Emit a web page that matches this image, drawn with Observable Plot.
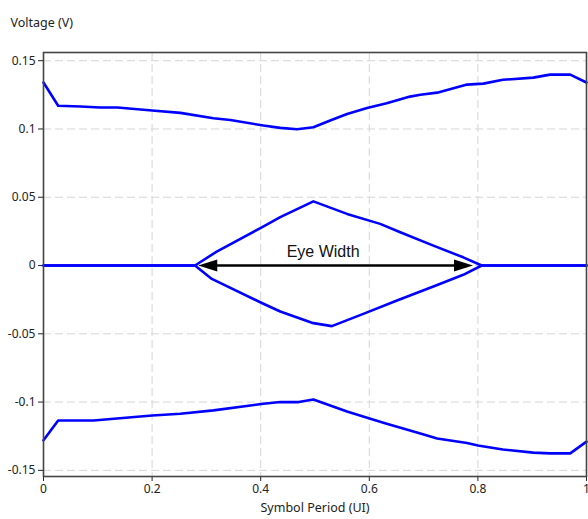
<!DOCTYPE html>
<html>
<head>
<meta charset="utf-8">
<script src="https://cdn.jsdelivr.net/npm/d3@7"></script>
<script src="https://cdn.jsdelivr.net/npm/@observablehq/plot@0.6"></script>
<style>
  html, body { margin: 0; padding: 0; background: #fff; overflow: hidden; }
</style>
</head>
<body>
<div id="chart"></div>
<script>
// Upper outer envelope
const upperX = [0, 0.027, 0.068, 0.104, 0.136, 0.2, 0.252, 0.313, 0.344, 0.405, 0.436, 0.467, 0.497, 0.528, 0.559, 0.596, 0.632, 0.675, 0.694, 0.725, 0.78, 0.81, 0.846, 0.902, 0.933, 0.97, 1];
const upperY = [0.134, 0.117, 0.1165, 0.1157, 0.1157, 0.1135, 0.1118, 0.1078, 0.1066, 0.1025, 0.1008, 0.0998, 0.1013, 0.1062, 0.111, 0.1154, 0.1188, 0.1237, 0.125, 0.1266, 0.1325, 0.1332, 0.136, 0.1376, 0.1398, 0.1398, 0.134];
// Lower outer envelope
const lowerX = [0, 0.027, 0.092, 0.2, 0.252, 0.313, 0.405, 0.436, 0.47, 0.497, 0.528, 0.559, 0.596, 0.632, 0.675, 0.694, 0.725, 0.78, 0.8, 0.846, 0.902, 0.933, 0.97, 1];
const lowerY = [-0.128, -0.1135, -0.1135, -0.1098, -0.1086, -0.1061, -0.1012, -0.1, -0.1, -0.0981, -0.1025, -0.1069, -0.1115, -0.1159, -0.1208, -0.123, -0.1267, -0.130, -0.1318, -0.1347, -0.137, -0.1376, -0.1376, -0.129];
// Inner eye, top edge (with zero line)
const eyeTopX = [0, 0.279, 0.319, 0.402, 0.436, 0.497, 0.559, 0.62, 0.657, 0.718, 0.773, 0.807, 1];
const eyeTopY = [0, 0, 0.0102, 0.028, 0.0354, 0.047, 0.0378, 0.0305, 0.0244, 0.0146, 0.006, 0, 0];
// Inner eye, bottom edge (with zero line)
const eyeBotX = [0, 0.279, 0.31, 0.405, 0.436, 0.497, 0.531, 0.589, 0.651, 0.718, 0.773, 0.807, 1];
const eyeBotY = [0, 0, -0.0098, -0.028, -0.0337, -0.0422, -0.0444, -0.0354, -0.0256, -0.0154, -0.0068, 0, 0];
// Eye width arrow
const arrowStart = 0.285;
const arrowEnd = 0.791;
const arrowLevel = 0;
const annotation = "Eye Width";
const annotationX = 0.515;
const annotationY = 0.0097;
// Ticks
const xTicks = [0, 0.2, 0.4, 0.6, 0.8, 1];
const yTicks = [0.15, 0.1, 0.05, 0, -0.05, -0.1, -0.15];
const xLabel = "Symbol Period (UI)";
const yLabel = "Voltage (V)";

const toPoints = (xs, ys, name) => xs.map((x, i) => ({x, y: ys[i], series: name}));
const traces = [
  ...toPoints(upperX, upperY, "upper"),
  ...toPoints(lowerX, lowerY, "lower"),
  ...toPoints(eyeTopX, eyeTopY, "eyeTop"),
  ...toPoints(eyeBotX, eyeBotY, "eyeBot")
];

// filled arrowhead, tip at origin pointing right
const headSymbol = {
  draw(context, size) {
    const L = 19, W = 6;
    context.moveTo(0, 0);
    context.lineTo(-L, -W);
    context.lineTo(-L, W);
    context.closePath();
  }
};

const heads = [
  {x: arrowEnd, y: arrowLevel, rot: 0},
  {x: arrowStart, y: arrowLevel, rot: 180}
];

const chart = Plot.plot({
  width: 588,
  height: 519,
  marginTop: 52,
  marginBottom: 43,
  marginLeft: 43,
  marginRight: 2,
  style: {fontFamily: "'Noto Sans', sans-serif", fontSize: "12px", color: "#333", background: "#fff"},
  x: {domain: [0, 1]},
  y: {domain: [-0.1545, 0.156]},
  marks: [
    Plot.gridX(xTicks.slice(1, -1), {stroke: "#d6d6d6", strokeOpacity: 1, strokeDasharray: "8,4"}),
    Plot.gridY(yTicks, {stroke: "#d6d6d6", strokeOpacity: 1, strokeDasharray: "8,4"}),
    Plot.axisX({ticks: xTicks, tickFormat: d => String(d), tickSize: 5, tickPadding: 3, label: null, fontSize: 12, color: "#222"}),
    Plot.axisY({ticks: yTicks, tickFormat: d => String(d), tickSize: 5, tickPadding: 3, label: null, fontSize: 12, color: "#222"}),
    Plot.line(traces, {x: "x", y: "y", z: "series", stroke: "#0000ff", strokeWidth: 2.6, strokeLinejoin: "round"}),
    Plot.link([{x1: arrowStart + 0.02, x2: arrowEnd - 0.02, y: arrowLevel}], {x1: "x1", x2: "x2", y1: "y", y2: "y", stroke: "#000", strokeWidth: 2.6}),
    Plot.dot(heads, {x: "x", y: "y", rotate: "rot", symbol: headSymbol, fill: "#000", stroke: "none", r: 5}),
    Plot.text([annotation], {x: annotationX, y: annotationY, text: d => d, fontSize: 16, fontFamily: "'Liberation Sans', Arial, sans-serif", fill: "#111"}),
    Plot.text([yLabel], {frameAnchor: "top-left", dx: -33, dy: -34, textAnchor: "start", text: d => d, fontSize: 12.5, fill: "#222"}),
    Plot.text([xLabel], {frameAnchor: "bottom", dy: 35, text: d => d, fontSize: 12.5, fill: "#222"}),
    Plot.frame({stroke: "#444", strokeWidth: 1.6})
  ]
});
document.getElementById("chart").appendChild(chart);
</script>
</body>
</html>
